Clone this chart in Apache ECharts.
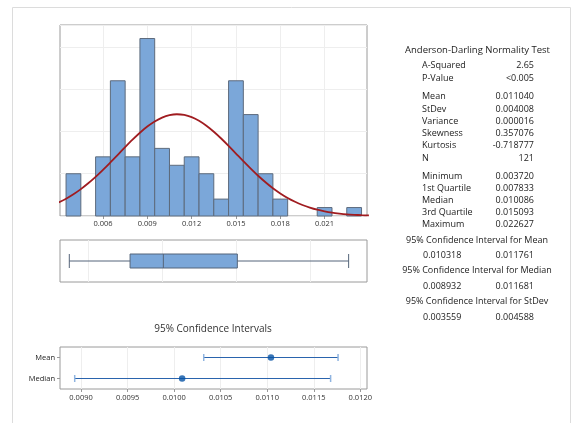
<!DOCTYPE html>
<html>
<head>
<meta charset="utf-8">
<script src="https://cdn.jsdelivr.net/npm/echarts@6/dist/echarts.min.js"></script>
<style>html,body{margin:0;padding:0;background:#fff;}#c{width:572px;height:423px;}</style>
</head>
<body>
<div id="c"></div>
<script>
// ---------- DATA ----------
const binCenters = [0.004,0.005,0.006,0.007,0.008,0.009,0.010,0.011,0.012,0.013,0.014,0.015,0.016,0.017,0.018,0.019,0.020,0.021,0.022,0.023];
const binCounts  = [5,0,7,16,7,21,8,6,7,5,2,16,12,5,2,0,0,1,0,1];
const binWidth = 0.001;
const curveX = [0.0030,0.0035,0.0040,0.0045,0.0050,0.0055,0.0060,0.0065,0.0070,0.0075,0.0080,0.0085,0.0090,0.0095,0.0100,0.0105,0.0110,0.0115,0.0120,0.0125,0.0130,0.0135,0.0140,0.0145,0.0150,0.0155,0.0160,0.0165,0.0170,0.0175,0.0180,0.0185,0.0190,0.0195,0.0200,0.0205,0.0210,0.0215,0.0220,0.0225,0.0230,0.0235,0.0240];
const curveY = [1.61,2.05,2.57,3.18,3.87,4.63,5.46,6.34,7.24,8.15,9.03,9.85,10.58,11.18,11.64,11.93,12.04,11.96,11.70,11.27,10.68,9.97,9.17,8.30,7.39,6.48,5.60,4.76,3.99,3.28,2.67,2.13,1.68,1.30,0.99,0.74,0.55,0.40,0.29,0.20,0.14,0.096,0.065];
const histTicks = [0.006,0.009,0.012,0.015,0.018,0.021];
const boxStats = [0.003720,0.007833,0.010086,0.015093,0.022627];
const boxGridValues = [0.005,0.010,0.015,0.020];
const ciCategories = ['Mean','Median'];
const ciLow    = [0.010318,0.008932];
const ciHigh   = [0.011761,0.011681];
const ciCenter = [0.011040,0.010086];
const ciTicks = [0.0090,0.0095,0.0100,0.0105,0.0110,0.0115,0.0120];
const testTitle = 'Anderson-Darling Normality Test';
const group1Labels = ['A-Squared','P-Value'];
const group1Values = ['2.65','<0.005'];
const group2Labels = ['Mean','StDev','Variance','Skewness','Kurtosis','N'];
const group2Values = ['0.011040','0.004008','0.000016','0.357076','-0.718777','121'];
const group3Labels = ['Minimum','1st Quartile','Median','3rd Quartile','Maximum'];
const group3Values = ['0.003720','0.007833','0.010086','0.015093','0.022627'];
const ciHeaders = ['95% Confidence Interval for Mean','95% Confidence Interval for Median','95% Confidence Interval for StDev'];
const ciPairsLow  = ['0.010318','0.008932','0.003559'];
const ciPairsHigh = ['0.011761','0.011681','0.004588'];
const ciTitle = '95% Confidence Intervals';

// ---------- CHART ----------
const FONT = 'Open Sans';
const chart = echarts.init(document.getElementById('c'), null, {renderer:'canvas'});

const graphics = [];
graphics.push({type:'rect', silent:true, shape:{x:12.5,y:7.5,width:558,height:440}, style:{fill:'none',stroke:'#dcdcdc',lineWidth:1}});
function txt(x,y,t,align,size,color){
  graphics.push({type:'text', x:x, y:y, style:{text:t, fontFamily:FONT, fontSize:size||9, fill:color||'#222', align:align||'left', verticalAlign:'middle'}});
}
txt(477.5,50,testTitle,'center',9.5,'#222');
const LX = 422, RX = 534;
group1Labels.forEach((l,i)=>{ txt(LX,65.7+i*12.3,l); txt(RX,65.7+i*12.3,group1Values[i],'right'); });
group2Labels.forEach((l,i)=>{ txt(LX,96.7+i*12.3,l); txt(RX,96.7+i*12.3,group2Values[i],'right'); });
group3Labels.forEach((l,i)=>{ txt(LX,176.3+i*12.1,l); txt(RX,176.3+i*12.1,group3Values[i],'right'); });
ciHeaders.forEach((h,i)=>{
  const y = 240 + i*30.8;
  txt(477,y,h,'center');
  txt(423,y+15.7,ciPairsLow[i],'left');
  txt(RX,y+15.7,ciPairsHigh[i],'right');
});
txt(213,329,ciTitle,'center',10,'#333');

const option = {
  animation:false,
  backgroundColor:'#fff',
  graphic: graphics,
  grid:[
    {left:60, top:25, width:307, height:191, show:true, borderColor:'#9a9a9a', borderWidth:1, containLabel:false},
    {left:60, top:240, width:307, height:42, show:true, borderColor:'#9a9a9a', borderWidth:1},
    {left:60, top:347, width:307, height:42, show:true, borderColor:'#9a9a9a', borderWidth:1}
  ],
  xAxis:[
    {gridIndex:0, type:'value', min:0.00309, max:0.02387,
     axisLine:{show:false},
     axisTick:{show:true, length:3, lineStyle:{color:'#999'}, customValues:histTicks},
     axisLabel:{fontFamily:FONT, fontSize:7.5, color:'#333', margin:4, customValues:histTicks, formatter:v=>v.toFixed(3)},
     splitLine:{show:true, lineStyle:{color:'#eeeeee'}}},
    {gridIndex:1, type:'value', min:0.00309, max:0.02387,
     axisLine:{show:false}, axisTick:{show:false, customValues:boxGridValues}, axisLabel:{show:false, customValues:boxGridValues},
     splitLine:{show:true, lineStyle:{color:'#eeeeee'}}},
    {gridIndex:2, type:'value', min:0.008774, max:0.012072,
     axisLine:{show:false},
     axisTick:{show:true, length:3, lineStyle:{color:'#999'}, customValues:ciTicks},
     axisLabel:{fontFamily:FONT, fontSize:7.5, color:'#333', margin:5, customValues:ciTicks, formatter:v=>v.toFixed(4)},
     splitLine:{show:true, lineStyle:{color:'#eeeeee'}}}
  ],
  yAxis:[
    {gridIndex:0, type:'value', min:0, max:22.6, interval:5,
     axisLine:{show:false}, axisTick:{show:false}, axisLabel:{show:false},
     splitLine:{show:true, lineStyle:{color:'#eeeeee'}}},
    {gridIndex:1, type:'category', data:['x'],
     axisLine:{show:false}, axisTick:{show:false}, axisLabel:{show:false}, splitLine:{show:false}},
    {gridIndex:2, type:'category', data:ciCategories, inverse:true,
     axisLine:{show:false},
     axisTick:{show:true, alignWithLabel:true, length:3, lineStyle:{color:'#999'}},
     axisLabel:{fontFamily:FONT, fontSize:7.5, color:'#222', margin:5},
     splitLine:{show:false}}
  ],
  series:[
    {type:'custom', xAxisIndex:0, yAxisIndex:0,
     data: binCenters.map((c,i)=>[c,binCounts[i]]),
     renderItem:(params,api)=>{
       const x = api.value(0), n = api.value(1);
       if (!n) return null;
       const p0 = api.coord([x-binWidth/2, n]);
       const p1 = api.coord([x+binWidth/2, 0]);
       return {type:'rect', shape:{x:p0[0], y:p0[1], width:p1[0]-p0[0], height:p1[1]-p0[1]},
               style:{fill:'#7ba7d9', stroke:'#5d6a7c', lineWidth:1}};
     }},
    {type:'line', xAxisIndex:0, yAxisIndex:0, smooth:0.3, showSymbol:false, clip:true,
     data: curveX.map((x,i)=>[x,curveY[i]]),
     lineStyle:{color:'#a01c20', width:1.8}},
    {type:'boxplot', xAxisIndex:1, yAxisIndex:1, boxWidth:[14,14],
     data:[boxStats],
     itemStyle:{color:'#7ba7d9', borderColor:'#55657a', borderWidth:1}},
    {type:'custom', xAxisIndex:2, yAxisIndex:2,
     data: ciCategories.map((c,i)=>[ciLow[i], ciHigh[i], i]),
     renderItem:(params,api)=>{
       const a = api.coord([api.value(0), api.value(2)]);
       const b = api.coord([api.value(1), api.value(2)]);
       const h = 3.5;
       return {type:'group', children:[
         {type:'line', shape:{x1:a[0],y1:a[1],x2:b[0],y2:b[1]}, style:{stroke:'#2a64ad', lineWidth:1.2}},
         {type:'line', shape:{x1:a[0],y1:a[1]-h,x2:a[0],y2:a[1]+h}, style:{stroke:'#8fb4e0', lineWidth:1.5}},
         {type:'line', shape:{x1:b[0],y1:b[1]-h,x2:b[0],y2:b[1]+h}, style:{stroke:'#8fb4e0', lineWidth:1.5}}
       ]};
     }},
    {type:'scatter', xAxisIndex:2, yAxisIndex:2, symbol:'circle', symbolSize:6.5,
     data: ciCategories.map((c,i)=>[ciCenter[i], c]),
     itemStyle:{color:'#0652a5'}}
  ]
};
chart.setOption(option);
</script>
</body>
</html>
